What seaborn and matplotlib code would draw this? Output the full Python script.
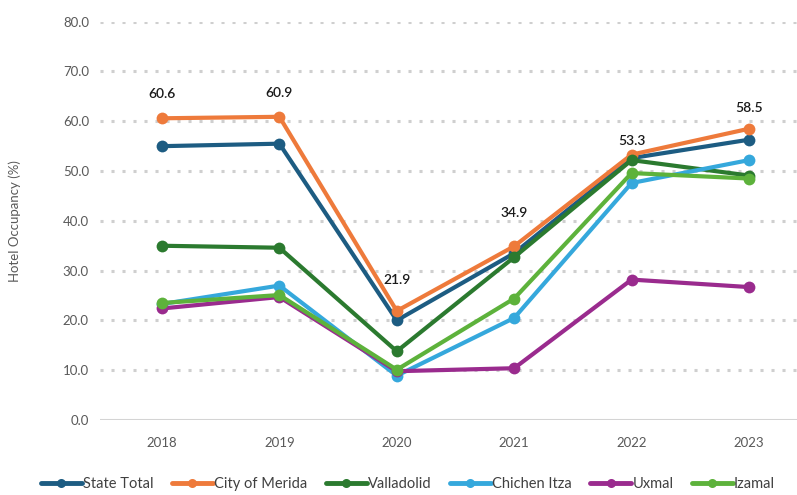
import matplotlib
matplotlib.use("Agg")
import matplotlib.pyplot as plt
import seaborn as sns
import pandas as pd

years = ["2018", "2019", "2020", "2021", "2022", "2023"]
state_total = [55.0, 55.5, 20.0, 33.5, 52.6, 56.3]
city_of_merida = [60.6, 60.9, 21.9, 34.9, 53.3, 58.5]
valladolid = [35.0, 34.6, 13.8, 32.7, 52.2, 49.1]
chichen_itza = [23.3, 27.0, 8.9, 20.5, 47.6, 52.2]
uxmal = [22.4, 24.7, 9.8, 10.4, 28.2, 26.7]
izamal = [23.5, 25.1, 10.1, 24.4, 49.6, 48.5]

series = {
    "State Total": state_total,
    "City of Merida": city_of_merida,
    "Valladolid": valladolid,
    "Chichen Itza": chichen_itza,
    "Uxmal": uxmal,
    "Izamal": izamal,
}
palette = {
    "State Total": "#1d5c82",
    "City of Merida": "#ee7a3b",
    "Valladolid": "#2b7a2f",
    "Chichen Itza": "#35a8dc",
    "Uxmal": "#9a2b8e",
    "Izamal": "#5db23b",
}

rows = []
for name, vals in series.items():
    for i, (yr, v) in enumerate(zip(years, vals)):
        rows.append({"idx": i, "Year": yr, "Series": name, "Occupancy": v})
df = pd.DataFrame(rows)

sns.set_theme(style="white")
plt.rcParams["font.family"] = ["Lato", "DejaVu Sans"]

fig = plt.figure(figsize=(7.97, 4.95), dpi=100)
ax = fig.add_axes([100 / 797, 75 / 495, 697 / 797, 398.3 / 495])

sns.lineplot(
    data=df, x="idx", y="Occupancy", hue="Series", palette=palette,
    hue_order=list(series.keys()), marker="o", markersize=8.5,
    markeredgewidth=0, linewidth=3, ax=ax, legend=True, zorder=3,
)

ax.set_xlim(-0.528, 5.409)
ax.set_ylim(0, 80)
ax.set_yticks(range(0, 81, 10))
ax.set_yticklabels([f"{v:.1f}" for v in range(0, 81, 10)])
ax.set_xticks(range(len(years)))
ax.set_xticklabels(years)
ax.tick_params(axis="both", length=0, colors="#595959", labelsize=9.5)
ax.tick_params(axis="x", pad=12)
ax.tick_params(axis="y", pad=8)

for s in ax.spines.values():
    s.set_visible(False)
for v in range(10, 81, 10):
    ax.axhline(v, color="#cfcfcf", linewidth=2.2, linestyle=(0, (1, 2.6)), zorder=1)
ax.axhline(0, color="#d4d4d4", linewidth=1.5, zorder=1)

ax.set_xlabel("")
ax.set_ylabel("Hotel Occupancy (%)", color="#595959", fontsize=9.5, labelpad=30)

# value labels for City of Merida
label_offsets = [24, 24, 31, 33, 14, 21]
for i, (v, off) in enumerate(zip(city_of_merida, label_offsets)):
    ax.annotate(f"{v:.1f}", (i, v), xytext=(0, off), textcoords="offset pixels",
                ha="center", va="center", fontsize=10, color="#1a1a1a",
                fontweight="semibold", zorder=5)

handles, labels = ax.get_legend_handles_labels()
ax.get_legend().remove()
for h in handles:
    h.set_markersize(6.5)
    h.set_linewidth(3.5)
fig.legend(handles, labels, loc="center", bbox_to_anchor=(0.512, 11 / 495),
           ncol=6, frameon=False, fontsize=10.5, handlelength=2.8, handletextpad=0.1,
           columnspacing=1.25, labelcolor="#404040")

fig.savefig("out.png", dpi=100)
